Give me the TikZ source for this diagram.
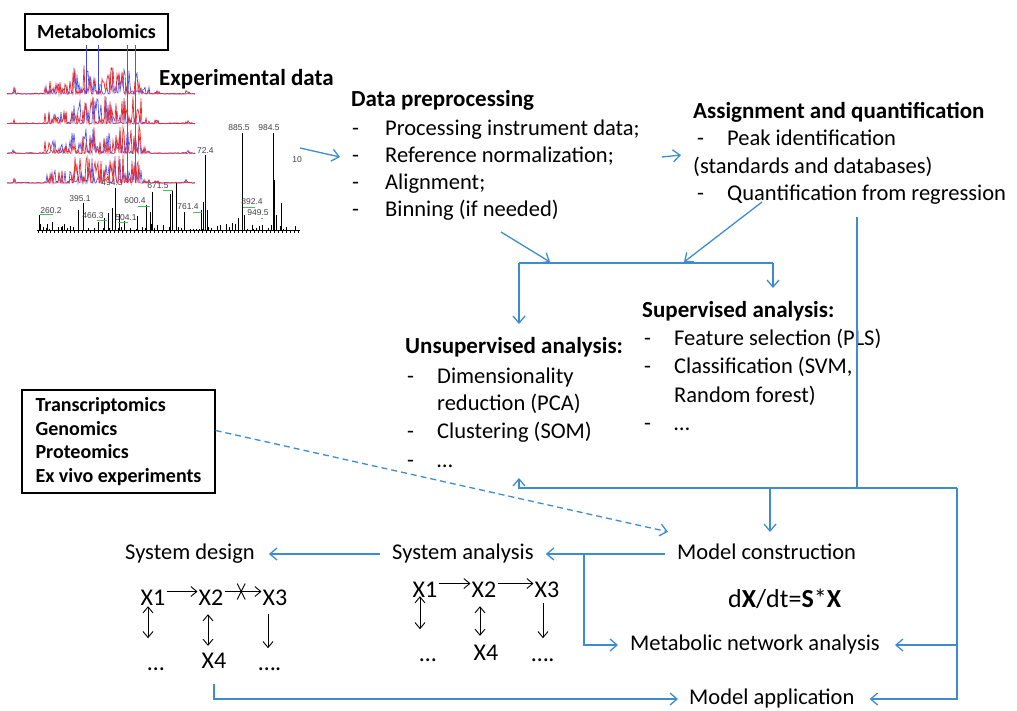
\documentclass[tikz,border=0pt]{standalone}
\usepackage{fontspec}
\setmainfont{Carlito}
\newfontfamily\figfont{Liberation Sans}
\usetikzlibrary{arrows.meta,positioning}

\definecolor{flowblue}{RGB}{62,140,208}
\definecolor{specred}{RGB}{240,40,40}
\definecolor{specblue}{RGB}{70,70,225}
\definecolor{peakgreen}{RGB}{70,190,90}

\newcommand{\dashitem}[2][30pt]{\makebox[#1][l]{-}#2}

\begin{document}
\begin{tikzpicture}[x=1pt,y=-1pt,
  every node/.style={inner sep=0pt},
  txt/.style={anchor=base west, text height=15pt, text depth=5pt, font=\fontsize{22.5}{27}\selectfont},
  ttl/.style={txt, font=\bfseries\fontsize{23}{27}\selectfont},
  net/.style={anchor=base, inner sep=1pt, text height=17pt, text depth=0pt, font=\fontsize{24}{28}\selectfont},
  omics/.style={draw, line width=1.2pt, fill=white, font=\bfseries\fontsize{20}{23.5}\selectfont},
  flow/.style={draw=flowblue, line width=1.3pt, -{Straight Barb[length=7pt,width=12pt]}},
  link/.style={draw=flowblue, line width=1.3pt},
  rel/.style={line width=0.9pt, -{Straight Barb[length=6pt,width=10pt]}},
  birel/.style={line width=0.9pt, {Straight Barb[length=6pt,width=10pt]}-{Straight Barb[length=6pt,width=10pt]}},
  peaklbl/.style={font=\figfont\fontsize{8.5}{9}\selectfont, text=black!75},
]
\useasboundingbox (0,0) rectangle (1017,710);

% Mass spectrum
\draw[line width=0.6pt] (37,230) -- (300,230);
\foreach \x in {38,42,...,298} \draw[line width=0.4pt] (\x,230) -- (\x,233);
\pgfmathsetseed{11}
\foreach \x in {40,43,...,298} \draw[line width=0.5pt] (\x,230) -- (\x,{230-7*rnd^2});
\foreach \x/\t in {39/215,47/224,52/222,62/226,78/210,83/203,98/222,104/218,108/213,112/208,
  115/188,119/214,124/221,137/216,146/205,150/212,152/192,170/194,172/190,176/183,184/212,
  201/210,203/202,205/155,207/210,238/218,242/133,244/215,252/225,262/226,273/133,274/180,
  276/215,281/203}
  \draw[line width=0.8pt] (\x,230) -- (\x,\t);
\foreach \lbl/\x/\y [count=\i] in {260.2/51/211,395.1/80/199,494.3/112/183,466.3/93/216,
  504.1/126/218,600.4/135/201,671.5/158/186,761.4/188/207,772.4/203/151,885.5/239/128,
  984.5/269/128,892.4/252/202,949.5/258/213,10/297/160}
  \node[peaklbl] (mz\i) at (\x,\y) {\lbl};
\foreach \xa/\xb/\y in {40/53/214,97/107/220,118/128/222,138/150/206,163/173/190,193/202/212,243/255/207,261/263/218}
  \draw[peakgreen, line width=0.8pt] (\xa,\y) -- (\xb,\y);

% Stacked spectra
\fill[white] (0,40) rectangle (197,176);
\node[omics, minimum width=143pt, minimum height=36pt] (metab) at (96.5,32) {Metabolomics};
\pgfmathsetseed{5}
\foreach \b in {94,123.7,153.4,183.1} {
  \draw[specblue, line width=0.6pt] (7,\b) \foreach \x in {8,...,195} {
    -- (\x,{\b-(1+8*and(\x>12,\x<16)+12*and(\x>44,\x<72)+26*and(\x>=72,\x<142)+6*and(\x>=142,\x<150)+3*and(\x>154,\x<160)+3*and(\x>184,\x<190))*rnd^3}) };
  \draw[specred, line width=0.7pt] (7,\b) \foreach \x in {8,...,195} {
    -- (\x,{\b-(1+8*and(\x>12,\x<16)+12*and(\x>44,\x<72)+28*and(\x>=72,\x<142)+6*and(\x>=142,\x<150)+3*and(\x>154,\x<160)+3*and(\x>184,\x<190))*rnd^3}) };
}
\draw[specblue, line width=0.9pt] (86,94) -- (86,45) (98,94) -- (98,45);
\draw[specred, line width=1pt] (127,183) -- (127,45) (135,183) -- (135,45);

\node[ttl] (expdata) at (159,85) {Experimental data};

% Data preprocessing
\node[ttl] (prep) at (351,106) {Data preprocessing};
\node[txt] (prep1) at (352,135) {\dashitem[33pt]{Processing instrument data;}};
\node[txt] (prep2) at (352,162) {\dashitem[33pt]{Reference normalization;}};
\node[txt] (prep3) at (352,189) {\dashitem[33pt]{Alignment;}};
\node[txt] (prep4) at (352,216) {\dashitem[33pt]{Binning (if needed)}};

% Assignment and quantification
\node[ttl] (assign) at (693,118) {Assignment and quantification};
\node[txt] (assign1) at (697,145) {\dashitem{Peak identification}};
\node[txt] (assign2) at (693,173) {(standards and databases)};
\node[txt] (assign3) at (697,200) {\dashitem{Quantification from regression}};

% Statistics
\node[ttl] (sup) at (642,317) {Supervised analysis:};
\node[txt] (sup1) at (644,345) {\dashitem{Feature selection (PLS)}};
\node[txt] (sup2) at (644,373) {\dashitem{Classification (SVM,}};
\node[txt] (sup3) at (674,402) {Random forest)};
\node[txt] (sup4) at (644,430) {\dashitem{…}};

\node[ttl] (unsup) at (405,353) {Unsupervised analysis:};
\node[txt] (unsup1) at (407,383) {\dashitem{Dimensionality}};
\node[txt] (unsup2) at (437,410) {reduction (PCA)};
\node[txt] (unsup3) at (407,438) {\dashitem{Clustering (SOM)}};
\node[txt] (unsup4) at (407,467) {\dashitem{…}};

% Other omics
\node[omics, minimum width=193pt, minimum height=103pt, align=left] (omics) at (118.5,441.5)
  {Transcriptomics\\Genomics\\Proteomics\\Ex vivo experiments};

% Modelling
\node[txt] (model) at (677,559) {Model construction};
\node[txt, font=\fontsize{26}{30}\selectfont] (ode) at (728,607) {d\textbf{X}/dt=\textbf{S}*\textbf{X}};
\node[txt] (mna) at (630,650) {Metabolic network analysis};
\node[txt] (apply) at (689,704) {Model application};
\node[txt] (sysan) at (392,559) {System analysis};
\node[txt] (sysdes) at (125,559) {System design};

% Network used for design
\node[net] (d1) at (153,605) {X1};
\node[net] (d2) at (211,605) {X2};
\node[net] (d3) at (275,605) {X3};
\node[net] (d4) at (214,668) {X4};
\node[net] (dl) at (156,670) {…};
\node[net] (dr) at (270,670) {….};
\draw[rel] ([yshift=5pt]d1.east) -- ([yshift=5pt]d2.west);
\draw[rel] ([yshift=5pt]d2.east) -- coordinate[pos=0.45] (cut) ([yshift=5pt]d3.west);
\draw[line width=0.9pt] (cut) ++(-4,-8) -- ++(8,16) (cut) ++(4,-8) -- ++(-8,16);
\draw[birel] ([xshift=-5pt]d1.south) -- ++(0,32);
\draw[birel] ([xshift=-3pt,yshift=-8pt]d2.south) -- ([xshift=-6pt,yshift=4pt]d4.north);
\draw[rel] ([xshift=-7pt,yshift=-8pt]d3.south) -- ++(0,34);

% Network used for analysis
\node[net] (a1) at (425,597) {X1};
\node[net] (a2) at (484,597) {X2};
\node[net] (a3) at (547,597) {X3};
\node[net] (a4) at (486,660) {X4};
\node[net] (al) at (428,661) {…};
\node[net] (ar) at (543,661) {….};
\draw[rel] ([yshift=5pt]a1.east) -- ([yshift=5pt]a2.west);
\draw[rel] ([yshift=5pt]a2.east) -- ([yshift=5pt]a3.west);
\draw[birel] ([xshift=-5pt,yshift=2pt]a1.south) -- ++(0,33);
\draw[birel] ([xshift=-4pt,yshift=-8pt]a2.south) -- ([xshift=-6pt,yshift=6pt]a4.north);
\draw[rel] ([xshift=-4pt,yshift=-5pt]a3.south) -- ++(0,35);

% Workflow arrows
\coordinate (specout) at (300,148);
\coordinate (prepout) at (662,157);
\coordinate (assignin) at (681,155);
\coordinate (prepdown) at (501,232);
\coordinate (assigndown) at (762,202);
\coordinate (splitL) at (519,263);
\coordinate (splitR) at (773,263);
\coordinate (quantdown) at (857,217);
\coordinate (busL) at (519,488);
\coordinate (busR) at (957,488);

\draw[flow] (specout) -- ([xshift=-12pt]prep2.west);
\draw[flow] (prepout) -- (assignin);
\draw[flow] (prepdown) -- (550,262);
\draw[flow] (assigndown) -- (684,262);
\draw[link] (splitL) -- (splitR);
\draw[flow] (splitL) -- ++(0,61);
\draw[flow] (splitR) -- ++(0,25);

\draw[link] (quantdown) -- (857,488);
\draw[flow] (busR) -- (busL) -- ++(0,-10);
\draw[flow] (770,488) -- ++(0,44);
\draw[flow] (busR) |- ([xshift=15pt]mna.east);
\draw[flow] (busR) |- ([xshift=15pt]apply.east);

\draw[flow] ([xshift=-12pt]model.west) -- ([xshift=12pt]sysan.east);
\draw[flow] ([xshift=-93pt]model.west) |- ([xshift=-12pt]mna.west);
\draw[flow] ([xshift=-12pt]sysan.west) -- ([xshift=14pt]sysdes.east);
\draw[flow, dash pattern=on 6pt off 4pt] ([yshift=11pt]omics.east) -- ([xshift=-9pt,yshift=12pt]model.north west);
\draw[flow] ([yshift=-15pt]d4.south) |- ([xshift=-11pt]apply.west);

\end{tikzpicture}
\end{document}
